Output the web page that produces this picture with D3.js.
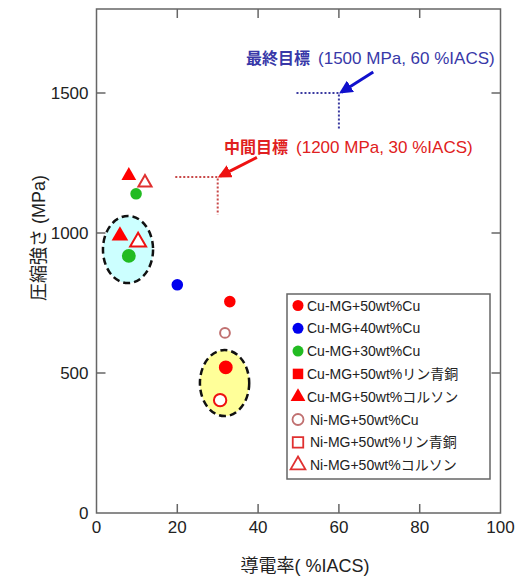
<!DOCTYPE html>
<html>
<head>
<meta charset="utf-8">
<script src="https://cdn.jsdelivr.net/npm/d3@7"></script>
<style>
  body { margin: 0; background: #fff; }
  svg { display: block; font-family: "Liberation Sans", Arial, "Noto Sans CJK JP", sans-serif; }
  .tick-label { font-size: 17px; fill: #222; }
  .legend text { font-size: 14px; fill: #222; }
  .latin { font-family: "Liberation Sans", Arial, sans-serif; font-size: 17px; }
</style>
</head>
<body>
<svg width="520" height="576"></svg>
<script>
// series (legend order)
const seriesNames = ['Cu-MG+50wt%Cu', 'Cu-MG+40wt%Cu', 'Cu-MG+30wt%Cu',
  'Cu-MG+50wt%リン青銅', 'Cu-MG+50wt%コルソン',
  'Ni-MG+50wt%Cu', 'Ni-MG+50wt%リン青銅', 'Ni-MG+50wt%コルソン'];
const seriesColors = ['#ff0000', '#0000ee', '#22bb22', '#ff0000', '#ff0000',
  '#c07070', '#e03030', '#e03030'];
const seriesShapes = ['circle', 'circle', 'circle', 'square', 'triangle',
  'circle', 'square', 'triangle'];
const seriesFilled = [true, true, true, true, true, false, false, false];

// measured points: series index, conductivity (%IACS), strength (MPa)
const pointSeries = [0, 0, 1, 2, 2, 4, 4, 5, 5, 7, 7];
const pointIACS = [33, 32, 20, 9.8, 8, 8, 5.8, 31.8, 30.6, 12, 10.3];
const pointMPa = [755, 520, 815, 1140, 918, 1205, 990, 643, 403, 1180, 968];
const pointMarked = [false, true, false, false, true, false, true, false, true, false, true];

// highlighted groups (centre and half-extent in data units)
const groupIACS = [7.8, 31.7];
const groupMPa = [941, 464];
const groupHalfIACS = [6.2, 6.1];
const groupHalfMPa = [120, 118];
const groupFill = ['#ccffff', '#ffff99'];

// targets
const targetNames = ['最終目標', '中間目標'];
const targetMPa = [1500, 1200];
const targetIACS = [60, 30];
const targetColors = ['#3838a8', '#e02020'];
const arrowColors = ['#1010cc', '#ee1111'];

const xTicks = [0, 20, 40, 60, 80, 100];
const yTicks = [0, 500, 1000, 1500];

const svg = d3.select('svg');
const margin = {left: 96.5, right: 19.5, top: 9, bottom: 63};
const W = 520, H = 576;

const x = d3.scaleLinear().domain([0, 100]).range([margin.left, W - margin.right]);
const y = d3.scaleLinear().domain([0, 1800]).range([H - margin.bottom, margin.top]);

svg.append('defs').selectAll('marker')
  .data(arrowColors)
  .enter().append('marker')
  .attr('id', (d, i) => 'arrow' + i)
  .attr('viewBox', '0 0 10 10')
  .attr('refX', 8).attr('refY', 5)
  .attr('markerWidth', 4.5).attr('markerHeight', 4.5)
  .attr('orient', 'auto')
  .append('path')
  .attr('d', 'M0,0L10,5L0,10z')
  .attr('fill', (d) => d);

// frame + ticks
const axisColor = '#666';
svg.append('rect')
  .attr('x', x(0)).attr('y', y(1800))
  .attr('width', x(100) - x(0)).attr('height', y(0) - y(1800))
  .attr('fill', 'none').attr('stroke', axisColor).attr('stroke-width', 1.5);

const tickLen = 9;
const g = svg.append('g');
xTicks.slice(1, -1).forEach((v) => {
  g.append('line').attr('x1', x(v)).attr('x2', x(v))
    .attr('y1', y(0)).attr('y2', y(0) - tickLen);
  g.append('line').attr('x1', x(v)).attr('x2', x(v))
    .attr('y1', y(1800)).attr('y2', y(1800) + tickLen);
});
yTicks.slice(1).forEach((v) => {
  g.append('line').attr('x1', x(0)).attr('x2', x(0) + tickLen)
    .attr('y1', y(v)).attr('y2', y(v));
  g.append('line').attr('x1', x(100)).attr('x2', x(100) - tickLen)
    .attr('y1', y(v)).attr('y2', y(v));
});
g.selectAll('line').attr('stroke', axisColor).attr('stroke-width', 1.5);

svg.selectAll('.xt').data(xTicks).enter().append('text')
  .attr('class', 'tick-label')
  .attr('x', (d) => x(d)).attr('y', y(0) + 20)
  .attr('text-anchor', 'middle')
  .text((d) => d);

svg.selectAll('.yt').data(yTicks).enter().append('text')
  .attr('class', 'tick-label')
  .attr('x', x(0) - 8).attr('y', (d) => y(d) + 6)
  .attr('text-anchor', 'end')
  .text((d) => d);

svg.append('text')
  .attr('x', 305).attr('y', 572)
  .attr('text-anchor', 'middle')
  .attr('font-size', 18).attr('fill', '#222')
  .text('導電率( %IACS)');

svg.append('text')
  .attr('transform', 'translate(45,238) rotate(-90)')
  .attr('text-anchor', 'middle')
  .attr('font-size', 18).attr('fill', '#222')
  .text('圧縮強さ (MPa)');

// groups
svg.selectAll('.grp').data(groupIACS).enter().append('ellipse')
  .attr('cx', (d) => x(d))
  .attr('cy', (d, i) => y(groupMPa[i]))
  .attr('rx', (d, i) => x(groupHalfIACS[i]) - x(0))
  .attr('ry', (d, i) => y(0) - y(groupHalfMPa[i]))
  .attr('fill', (d, i) => groupFill[i])
  .attr('stroke', '#111').attr('stroke-width', 2.5)
  .attr('stroke-dasharray', '7,4');

// targets
targetNames.forEach((name, i) => {
  const tx = targetIACS[i], ty = targetMPa[i];
  svg.append('path')
    .attr('d', 'M' + x(tx - 10.5) + ',' + y(ty) + 'H' + x(tx) + 'V' + y(ty - 135 * (i ? 1 : 0.95)))
    .attr('fill', 'none')
    .attr('stroke', i ? '#c84848' : '#3a3aa0')
    .attr('stroke-width', 2).attr('stroke-dasharray', '2,2');
  svg.append('line')
    .attr('x1', x(tx + 8.5 + i * 1.2)).attr('y1', y(ty + 75 - i * 5))
    .attr('x2', x(tx + 0.6)).attr('y2', y(ty + 3))
    .attr('stroke', arrowColors[i]).attr('stroke-width', 3)
    .attr('marker-end', 'url(#arrow' + i + ')');
  const t = svg.append('text')
    .attr('x', i ? 224 : 246).attr('y', i ? 153 : 64)
    .attr('font-size', 16).attr('fill', targetColors[i]);
  t.append('tspan').attr('font-weight', 'bold')
    .attr('font-family', '"Noto Sans CJK JP", sans-serif').text(name);
  t.append('tspan').attr('class', 'latin').attr('dx', 8)
    .text('(' + targetMPa[i] + ' MPa, ' + targetIACS[i] + ' %IACS)');
});

// points
const shapeType = {circle: d3.symbolCircle, square: d3.symbolSquare, triangle: d3.symbolTriangle};
function symbolPath(s, size) {
  return d3.symbol().type(shapeType[seriesShapes[s]]).size(size)();
}
function markerSize(s, big) {
  const sh = seriesShapes[s];
  if (seriesFilled[s]) return sh === 'triangle' ? (big ? 120 : 95) : (big ? 150 : 105);
  return sh === 'triangle' ? (big ? 110 : 75) : (big ? 120 : 75);
}
svg.selectAll('.pt').data(pointSeries).enter().append('path')
  .attr('transform', (d, i) => 'translate(' + x(pointIACS[i]) + ',' + y(pointMPa[i]) + ')')
  .attr('d', (d, i) => symbolPath(d, markerSize(d, pointMarked[i])))
  .attr('fill', (d) => seriesFilled[d] ? seriesColors[d] : '#fff')
  .attr('stroke', (d, i) => seriesFilled[d] ? 'none' : (pointMarked[i] ? '#ee1111' : seriesColors[d]))
  .attr('stroke-width', 2);

// legend
const lx = 287, ly = 294, lw = 203, lh = 185, rowH = 22.8;
const legend = svg.append('g').attr('class', 'legend');
legend.append('rect')
  .attr('x', lx).attr('y', ly).attr('width', lw).attr('height', lh)
  .attr('fill', '#fff').attr('stroke', '#666').attr('stroke-width', 1.5);
const rows = legend.selectAll('.row').data(seriesNames).enter().append('g')
  .attr('transform', (d, i) => 'translate(' + (lx + 11) + ',' + (ly + 11.5 + i * rowH) + ')');
rows.append('path')
  .attr('d', (d, i) => symbolPath(i, seriesShapes[i] === 'square' ? 110 : 95))
  .attr('fill', (d, i) => seriesFilled[i] ? seriesColors[i] : '#fff')
  .attr('stroke', (d, i) => seriesFilled[i] ? 'none' : seriesColors[i])
  .attr('stroke-width', 1.8);
rows.append('text')
  .attr('x', (d, i) => seriesFilled[i] ? 9 : 12).attr('y', 5)
  .text((d) => d);
</script>
</body>
</html>
